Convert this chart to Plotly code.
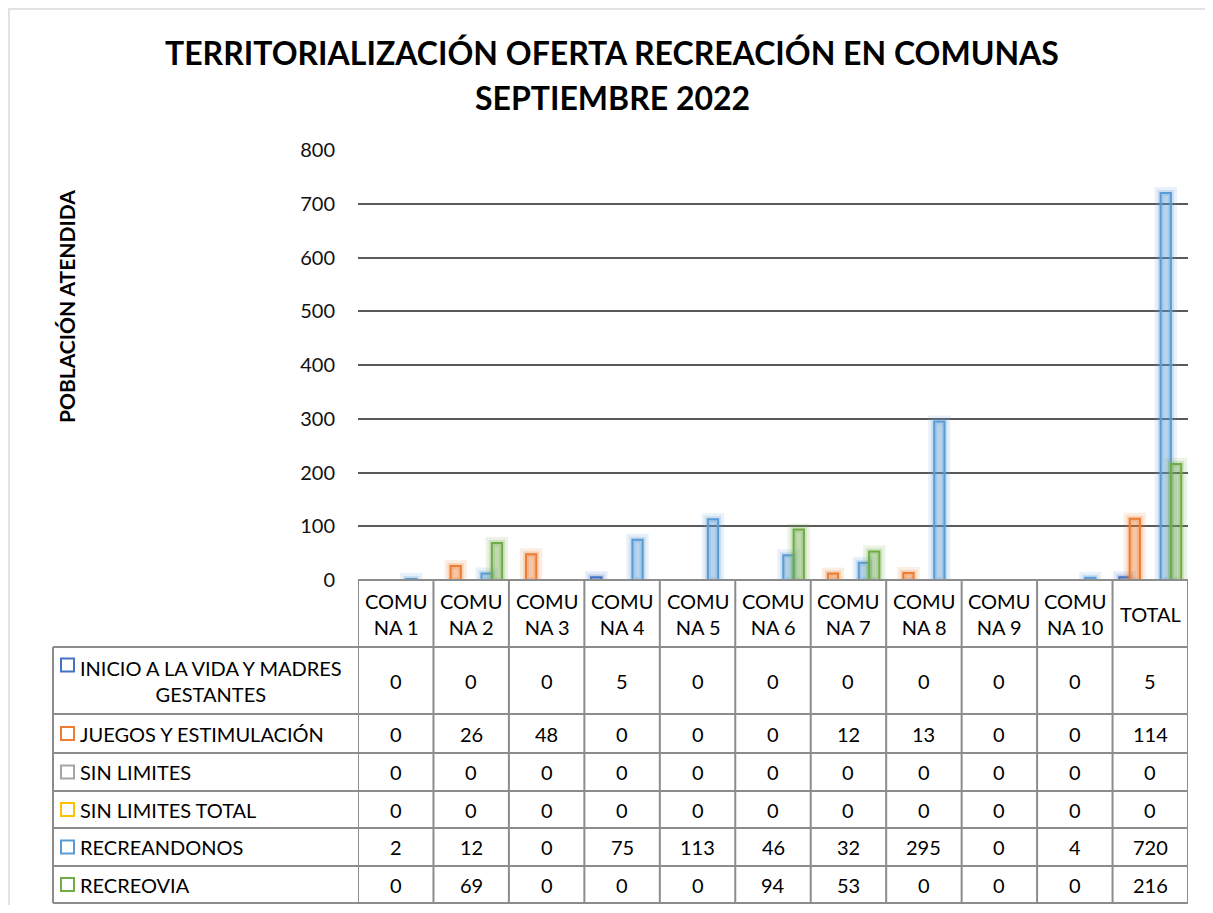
import plotly.graph_objects as go

categories = ["COMUNA 1", "COMUNA 2", "COMUNA 3", "COMUNA 4", "COMUNA 5", "COMUNA 6",
              "COMUNA 7", "COMUNA 8", "COMUNA 9", "COMUNA 10", "TOTAL"]
header_labels = ["COMU<br>NA 1", "COMU<br>NA 2", "COMU<br>NA 3", "COMU<br>NA 4", "COMU<br>NA 5",
                 "COMU<br>NA 6", "COMU<br>NA 7", "COMU<br>NA 8", "COMU<br>NA 9", "COMU<br>NA 10", "TOTAL"]

series_names = ["INICIO A LA VIDA Y MADRES GESTANTES", "JUEGOS Y ESTIMULACIÓN", "SIN LIMITES",
                "SIN LIMITES TOTAL", "RECREANDONOS", "RECREOVIA"]
series_labels = ["INICIO A LA VIDA Y MADRES<br>GESTANTES", "JUEGOS Y ESTIMULACIÓN", "SIN LIMITES",
                 "SIN LIMITES TOTAL", "RECREANDONOS", "RECREOVIA"]

inicio = [0, 0, 0, 5, 0, 0, 0, 0, 0, 0, 5]
juegos = [0, 26, 48, 0, 0, 0, 12, 13, 0, 0, 114]
sin_limites = [0, 0, 0, 0, 0, 0, 0, 0, 0, 0, 0]
sin_limites_total = [0, 0, 0, 0, 0, 0, 0, 0, 0, 0, 0]
recreandonos = [2, 12, 0, 75, 113, 46, 32, 295, 0, 4, 720]
recreovia = [0, 69, 0, 0, 0, 94, 53, 0, 0, 0, 216]

series_values = [inicio, juegos, sin_limites, sin_limites_total, recreandonos, recreovia]
colors = ["#4472C4", "#ED7D31", "#A5A5A5", "#FFC000", "#5B9BD5", "#70AD47"]

y_ticks = [0, 100, 200, 300, 400, 500, 600, 700, 800]

# ---- layout geometry (screen pixels; page body has an 8px margin) ----
OFF = 8
W, H = 1213 - 2 * OFF, 913 - 2 * OFF
PL, PR, PT, PB = 358, 1188, 150, 580
FONT = "Lato, Open Sans, sans-serif"
GRID = "#8c8c8c"


def xp(px):
    return (px - PL) / (PR - PL)


def yp(py):
    return (PB - py) / (PB - PT)


def rgba(hexc, a):
    h = hexc.lstrip("#")
    r, g, b = int(h[0:2], 16), int(h[2:4], 16), int(h[4:6], 16)
    return f"rgba({r},{g},{b},{a})"


fig = go.Figure()

n = len(series_values)
group = 0.82
bw = group / n
for i, (name, vals, c) in enumerate(zip(series_names, series_values, colors)):
    yv = [v if v != 0 else None for v in vals]
    off = -group / 2 + i * bw
    # soft glow
    fig.add_trace(go.Bar(x=categories, y=yv, width=bw, offset=off,
                         marker=dict(color=rgba(c, 0.14), line=dict(color=rgba(c, 0.14), width=12)),
                         showlegend=False, hoverinfo="skip"))
    fig.add_trace(go.Bar(x=categories, y=yv, width=bw, offset=off,
                         marker=dict(color=rgba(c, 0.12), line=dict(color=rgba(c, 0.22), width=6)),
                         showlegend=False, hoverinfo="skip"))
    fig.add_trace(go.Bar(x=categories, y=yv, width=bw, offset=off, name=name,
                         marker=dict(color=rgba(c, 0.12), line=dict(color=c, width=2)),
                         showlegend=False))

shapes = []
annotations = []

# Table geometry
header_bottom = 647
row_bounds = [647, 714, 753, 791, 828, 866, 903]
leg_left = 53

for k in range(len(categories) + 1):
    shapes.append(dict(type="line", xref="x", yref="paper", x0=k - 0.5, x1=k - 0.5,
                       y0=yp(PB), y1=yp(row_bounds[-1]), line=dict(color=GRID, width=2)))
shapes.append(dict(type="line", xref="paper", yref="paper", x0=xp(leg_left), x1=xp(leg_left),
                   y0=yp(header_bottom), y1=yp(row_bounds[-1]), line=dict(color=GRID, width=2)))
shapes.append(dict(type="line", xref="paper", yref="paper", x0=0, x1=1, y0=0, y1=0,
                   line=dict(color=GRID, width=2)))
for rb in row_bounds:
    shapes.append(dict(type="line", xref="paper", yref="paper", x0=xp(leg_left), x1=1,
                       y0=yp(rb), y1=yp(rb), line=dict(color=GRID, width=2)))

for k, lab in enumerate(header_labels):
    annotations.append(dict(x=categories[k], xref="x", y=yp((PB + header_bottom) / 2), yref="paper",
                            text=lab, showarrow=False, xanchor="center", yanchor="middle",
                            font=dict(family=FONT, size=20, color="#000")))

for r in range(n):
    top, bot = row_bounds[r], row_bounds[r + 1]
    cy = (top + bot) / 2
    for k, v in enumerate(series_values[r]):
        annotations.append(dict(x=categories[k], xref="x", y=yp(cy), yref="paper",
                                text=str(v), showarrow=False, xanchor="center", yanchor="middle",
                                font=dict(family=FONT, size=20, color="#000")))
    annotations.append(dict(x=xp(78), xref="paper", y=yp(cy), yref="paper",
                            text=series_labels[r], showarrow=False, xanchor="left", yanchor="middle",
                            align="center", font=dict(family=FONT, size=20, color="#000")))
    sq = cy if r != 0 else 665
    shapes.append(dict(type="rect", xref="paper", yref="paper", x0=xp(61), x1=xp(74),
                       y0=yp(sq - 6.5), y1=yp(sq + 6.5), line=dict(color=colors[r], width=2),
                       fillcolor="white"))

annotations.append(dict(x=xp(612), xref="paper", y=yp(53), yref="paper",
                        text="<b>TERRITORIALIZACIÓN OFERTA RECREACIÓN EN COMUNAS</b>", showarrow=False,
                        xanchor="center", yanchor="middle", font=dict(family=FONT, size=32, color="#000")))
annotations.append(dict(x=xp(612), xref="paper", y=yp(97), yref="paper",
                        text="<b>SEPTIEMBRE 2022</b>", showarrow=False,
                        xanchor="center", yanchor="middle", font=dict(family=FONT, size=32, color="#000")))
annotations.append(dict(x=xp(66), xref="paper", y=yp(307), yref="paper",
                        text="<b>POBLACIÓN ATENDIDA</b>", showarrow=False, textangle=-90,
                        xanchor="center", yanchor="middle", font=dict(family=FONT, size=21, color="#000")))

# faint outer border (top and left)
shapes.append(dict(type="line", xref="paper", yref="paper", x0=xp(OFF), x1=xp(1213), y0=yp(OFF + 1), y1=yp(OFF + 1),
                   line=dict(color="#e3e3e3", width=2)))
shapes.append(dict(type="line", xref="paper", yref="paper", x0=xp(OFF + 1), x1=xp(OFF + 1), y0=yp(OFF), y1=yp(913),
                   line=dict(color="#e3e3e3", width=2)))

fig.update_layout(
    width=W, height=H,
    margin=dict(l=PL - OFF, r=(W + OFF) - PR, t=PT - OFF, b=(H + OFF) - PB, pad=0),
    paper_bgcolor="white", plot_bgcolor="white",
    barmode="overlay",
    showlegend=False,
    shapes=shapes, annotations=annotations,
    font=dict(family=FONT, size=20, color="#000"),
    xaxis=dict(type="category", range=[-0.5, len(categories) - 0.5], showticklabels=False,
               showgrid=False, zeroline=False, showline=False, fixedrange=True),
    yaxis=dict(range=[0, 800], tickvals=y_ticks, showgrid=True, gridcolor="#5a5a5a", gridwidth=1.5,
               zeroline=False, showline=False, ticks="", ticklabelstandoff=22,
               tickfont=dict(family=FONT, size=20, color="#111"), fixedrange=True),
)

fig.write_html("out.html")
